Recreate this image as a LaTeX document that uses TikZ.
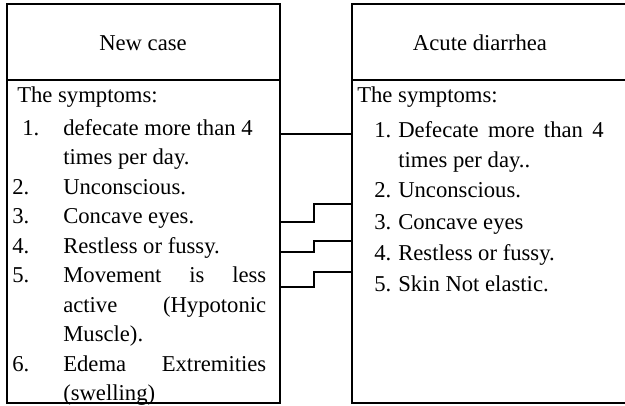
\documentclass[tikz,border=0pt]{standalone}
\usepackage{fontspec}
\setmainfont{Liberation Serif}
\usetikzlibrary{fit}
\begin{document}
\begin{tikzpicture}[x=0.75pt,y=-0.75pt,
  box/.style={draw,line width=1.7pt*0.75,inner sep=0pt},
  conn/.style={draw,line width=1.2pt*0.75},
  txt/.style={anchor=base west,inner sep=0pt,font=\fontsize{17}{22}\selectfont},
  head/.style={anchor=base,inner sep=0pt,font=\fontsize{17}{22}\selectfont}]
\useasboundingbox (0,0) rectangle (625,405);
% boxes
\node[box,fit={(7,4) (280,80)}] (Lhead) {};
\node[box,fit={(7,80) (280,403)}] (Lbody) {};
\node[box,fit={(352,4) (632,80)}] (Rhead) {};
\node[box,fit={(352,80) (632,403)}] (Rbody) {};
% headings
\node[head] (lh) at (143,50) {New case};
\node[head] (rh) at (480,50) {Acute diarrhea};
% left list
\node[txt] (lt) at (17,102) {The symptoms:};
\node[txt] (ln1) at (22,135) {1.};
\node[txt] (ll1) at (63,135) {defecate more than 4};
\node[txt] (ll1b) at (63,164.5) {times per day.};
\node[txt] (ln2) at (12,194) {2.};
\node[txt] (ll2) at (63,194) {Unconscious.};
\node[txt] (ln3) at (12,223.5) {3.};
\node[txt] (ll3) at (63,223.5) {Concave eyes.};
\node[txt] (ln4) at (12,253) {4.};
\node[txt] (ll4) at (63,253) {Restless or fussy.};
\node[txt] (ln5) at (12,282.5) {5.};
\node[txt] (ll5) at (63,282.5) {\makebox[152.25pt][s]{Movement is less}};
\node[txt] (ll5b) at (63,312) {\makebox[152.25pt][s]{active (Hypotonic}};
\node[txt] (ll5c) at (63,341.5) {Muscle).};
\node[txt] (ln6) at (12,371) {6.};
\node[txt] (ll6) at (63,371) {\makebox[152.25pt][s]{Edema Extremities}};
\node[txt] (ll6b) at (63,400.5) {(swelling)};
% right list
\node[txt] (rt) at (357,102) {The symptoms:};
\node[txt] (rn1) at (374,137) {1.};
\node[txt] (rl1) at (398,137) {\makebox[154pt][s]{Defecate more than 4}};
\node[txt] (rl1b) at (398,167) {times per day..};
\node[txt] (rn2) at (374,197) {2.};
\node[txt] (rl2) at (398,197) {Unconscious.};
\node[txt] (rn3) at (374,229) {3.};
\node[txt] (rl3) at (398,229) {Concave eyes};
\node[txt] (rn4) at (374,260) {4.};
\node[txt] (rl4) at (398,260) {Restless or fussy.};
\node[txt] (rn5) at (374,291) {5.};
\node[txt] (rl5) at (398,291) {Skin Not elastic.};
% connectors
\draw[conn] (Lbody.east |- 0,134) -- (Rbody.west |- 0,134);
\draw[conn] (Lbody.east |- 0,222) -| (314,204) -- (Rbody.west |- 0,204);
\draw[conn] (Lbody.east |- 0,252) -| (314,241) -- (Rbody.west |- 0,241);
\draw[conn] (Lbody.east |- 0,287) -| (314,272) -- (Rbody.west |- 0,272);
\end{tikzpicture}
\end{document}
